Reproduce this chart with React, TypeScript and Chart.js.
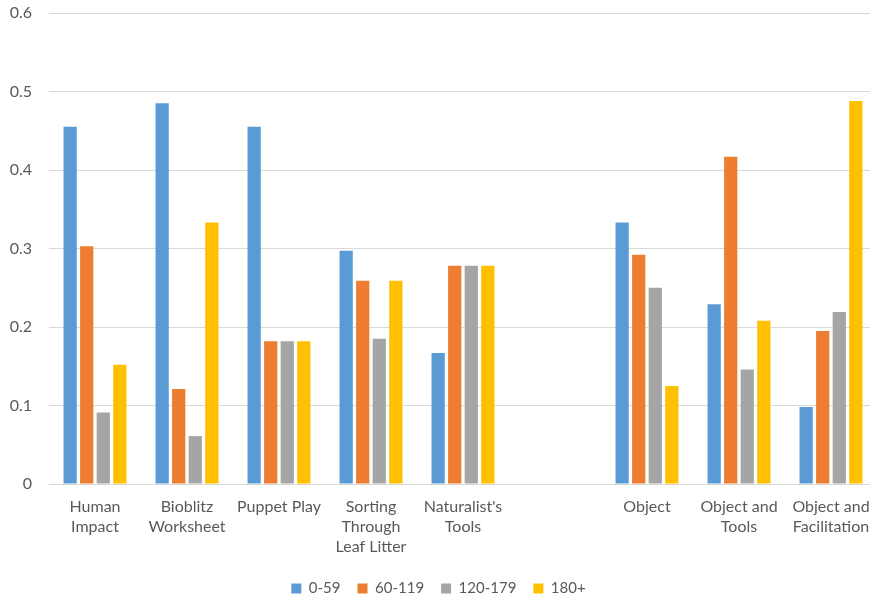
import React, { useEffect, useRef } from "react";
import { Chart, registerables } from "chart.js";

Chart.register(...registerables);

const categories: (string | string[])[] = [
  ["Human", "Impact"],
  ["Bioblitz", "Worksheet"],
  "Puppet Play",
  ["Sorting", "Through", "Leaf Litter"],
  ["Naturalist's", "Tools"],
  "",
  "Object",
  ["Object and", "Tools"],
  ["Object and", "Facilitation"],
];

const seriesNames = ["0-59", "60-119", "120-179", "180+"];
const seriesColors = ["#5B9BD5", "#ED7D31", "#A5A5A5", "#FFC000"];

const s0_59 = [0.455, 0.485, 0.455, 0.297, 0.167, null, 0.333, 0.229, 0.098];
const s60_119 = [0.303, 0.121, 0.182, 0.259, 0.278, null, 0.292, 0.417, 0.195];
const s120_179 = [0.091, 0.061, 0.182, 0.185, 0.278, null, 0.25, 0.146, 0.219];
const s180p = [0.152, 0.333, 0.182, 0.259, 0.278, null, 0.125, 0.208, 0.488];

const seriesData = [s0_59, s60_119, s120_179, s180p];

const FONT = "Lato, 'Open Sans', sans-serif";

export default function App() {
  const ref = useRef<HTMLCanvasElement | null>(null);

  useEffect(() => {
    if (!ref.current) return;
    const chart = new Chart(ref.current, {
      type: "bar",
      data: {
        labels: categories,
        datasets: seriesNames.map((name, i) => ({
          label: name,
          data: seriesData[i],
          backgroundColor: seriesColors[i],
          borderWidth: 0,
          categoryPercentage: 0.72,
          barPercentage: 0.8,
        })),
      },
      options: {
        responsive: false,
        animation: false,
        maintainAspectRatio: false,
        layout: { padding: { top: 0, right: 27, left: 0, bottom: 0 } },
        plugins: {
          legend: {
            position: "bottom",
            labels: {
              boxWidth: 10,
              boxHeight: 10,
              padding: 17,
              color: "#595959",
              font: { family: FONT, size: 15 },
            },
          },
          tooltip: { enabled: false },
        },
        scales: {
          x: {
            grid: { display: false, drawTicks: false },
            border: { display: true, color: "#d9d9d9", width: 1 },
            ticks: {
              color: "#595959",
              font: { family: FONT, size: 16, lineHeight: 1.25 },
              padding: 13,
              maxRotation: 0,
              minRotation: 0,
              autoSkip: false,
            },
            afterFit: (s: any) => {
              s.height = 80;
              s.paddingTop = 0;
              s.paddingBottom = 0;
            },
          },
          y: {
            min: 0,
            max: 0.6,
            grid: { color: "#d9d9d9", lineWidth: 1, drawTicks: false },
            border: { display: false },
            ticks: {
              stepSize: 0.1,
              color: "#595959",
              font: { family: FONT, size: 16 },
              padding: 17,
              callback: (v: any) => (Math.round(Number(v) * 10) / 10).toString(),
            },
            afterFit: (s: any) => {
              s.width = 49;
              s.paddingTop = 13;
              s.paddingBottom = 0;
            },
          },
        },
      },
    });
    return () => chart.destroy();
  }, []);

  return (
    <div
      style={{
        position: "fixed",
        left: 0,
        top: 0,
        width: 870,
        height: 598,
        overflow: "hidden",
        background: "#fff",
      }}
    >
      <canvas ref={ref} width={904} height={606} style={{ width: 904, height: 606 }} />
    </div>
  );
}
